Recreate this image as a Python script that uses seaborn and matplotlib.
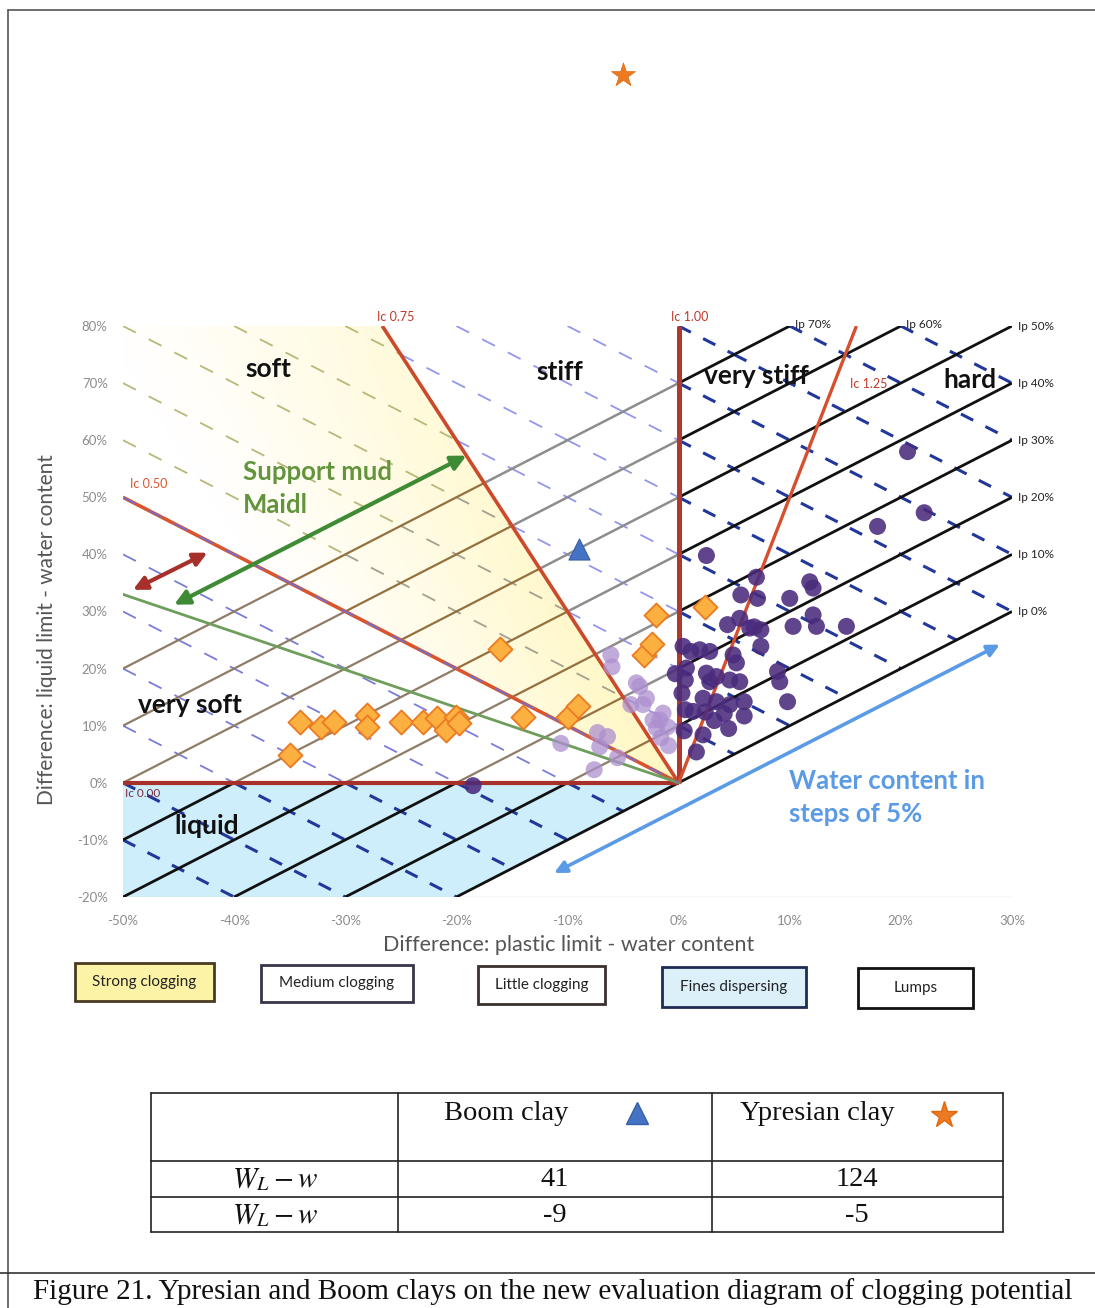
import numpy as np
import pandas as pd
import matplotlib
matplotlib.use("Agg")
import matplotlib.pyplot as plt
import seaborn as sns
from matplotlib.patches import Polygon, Rectangle, FancyArrowPatch
from matplotlib.lines import Line2D

sns.set_theme(style="white")
plt.rcParams['font.family'] = ['Lato', 'DejaVu Sans']
plt.rcParams['mathtext.fontset'] = 'stix'

# ---------------------------------------------------------------- data
x_ticks = [-50, -40, -30, -20, -10, 0, 10, 20, 30]
y_ticks = [-20, -10, 0, 10, 20, 30, 40, 50, 60, 70, 80]
ip_values = [0, 10, 20, 30, 40, 50, 60, 70]          # plasticity index lines
ic_values = [0.0, 0.5, 0.75, 1.0, 1.25]              # consistency index lines
w_steps = list(range(-70, 111, 10))                  # water-content lines (x + y = const)

support_mud_line = {"x": [-50, 0], "y": [33, 0]}

# samples: (plastic limit - w, liquid limit - w)
strong_x = [-35.0, -34.1, -32.2, -31.0, -28.0, -28.0, -25.0, -23.0, -21.7, -20.9,
            -20.0, -19.8, -16.1, -14.0, -10.0, -9.1, -3.1, -2.4, -2.0, 2.4]
strong_y = [4.9, 10.7, 9.8, 10.7, 11.9, 9.8, 10.7, 10.7, 11.3, 9.3,
            11.6, 10.5, 23.5, 11.6, 11.6, 13.5, 22.4, 24.3, 29.4, 30.8]

light_x = [-10.6, -7.6, -7.3, -7.1, -6.4, -6.1, -5.5, -4.3, -3.8, -3.5,
           -3.2, -2.9, -2.3, -2.0, -1.7, -1.4, -1.0, -1.6, -0.9, -6.0]
light_y = [6.9, 2.3, 8.8, 6.3, 8.1, 22.4, 4.4, 13.7, 17.5, 16.9,
           13.7, 14.8, 11.0, 9.6, 11.0, 12.2, 9.8, 7.9, 6.5, 20.3]

dark_x = [2.5, 7.0, 5.6, 7.1, 10.0, 11.8, 12.1, 17.9, 20.6, 22.1,
          10.3, 12.1, 12.4, 15.1, 4.4, 5.5, 6.4, 7.4, 7.4, 0.4,
          1.1, 1.9, 2.8, 0.7, 2.5, 3.4, 4.6, 5.5, 5.2, 4.9,
          8.9, 0.3, 2.2, 3.4, 4.6, 5.9, 9.8, 1.3, 0.5, 1.6,
          2.2, 3.2, 4.5, 5.9, 0.6, 2.4, 4.1, -0.3, 9.1, 6.8,
          -18.5, 0.6, 2.8]
dark_y = [39.8, 36.0, 32.9, 32.3, 32.3, 35.2, 34.1, 44.9, 58.0, 47.3,
          27.4, 29.4, 27.4, 27.4, 27.7, 28.8, 27.1, 26.8, 23.9, 23.9,
          23.0, 23.3, 23.0, 20.1, 19.2, 18.6, 18.0, 17.7, 21.0, 22.4,
          19.5, 15.7, 14.8, 14.2, 13.7, 14.2, 14.2, 12.5, 9.1, 5.4,
          8.4, 10.9, 9.5, 11.7, 12.8, 12.4, 12.1, 19.1, 17.7, 27.3,
          -0.5, 18.0, 17.7]

clay_names = ["Boom clay", "Ypresian clay"]
clay_wl_w = [41, 124]     # liquid limit - water content
clay_wp_w = [-9, -5]      # plastic limit - water content

legend_labels = ["Strong clogging", "Medium clogging", "Little clogging",
                 "Fines dispersing", "Lumps"]
legend_fills = ["#fdf3a6", "#ffffff", "#ffffff", "#dcf0fa", "#ffffff"]
legend_edges = ["#4a3a20", "#3a3548", "#3a3030", "#1f2a55", "#111111"]

# ---------------------------------------------------------------- figure
W, H = 1095, 1308
fig = plt.figure(figsize=(W / 100, H / 100), dpi=100)
fig.patch.set_facecolor("white")


def fx(px):
    return px / W


def fy(py):
    return 1 - py / H


ax = fig.add_axes([fx(123), fy(897), (1012 - 123) / W, (897 - 326) / H])
ax.set_xlim(-50, 30)
ax.set_ylim(-20, 80)
ax.set_facecolor("none")
for s in ax.spines.values():
    s.set_visible(False)
ax.grid(False)


def ic_x(ic, y):
    """x on a consistency-index line for a given y."""
    return y * (ic - 1) / ic


# ---- coloured zones
# fines dispersing (below Ic = 0)
ax.add_patch(Polygon([(-50, 0), (0, 0), (-20, -20), (-50, -20)], closed=True,
                     facecolor="#cdeefa", edgecolor="none", zorder=0))

# strong clogging band between Ic 0.50 and Ic 0.75, fading to the upper left
poly = Polygon([(0, 0), (ic_x(0.75, 80), 80), (-50, 80), (-50, 50)], closed=True,
               facecolor="none", edgecolor="none")
ax.add_patch(poly)
gx = np.linspace(-50, 0, 400)
gy = np.linspace(0, 80, 400)
GX, GY = np.meshgrid(gx, gy)
dist = ic_x(0.75, GY) - GX
alpha = np.clip(1 - dist / 26.0, 0, 1) ** 1.2 * (1 - 0.45 * GY / 80)
img = np.zeros(GX.shape + (4,))
img[..., 0] = 1.0
img[..., 1] = 0.972
img[..., 2] = 0.76
img[..., 3] = alpha
im = ax.imshow(img, extent=(-50, 0, 0, 80), origin="lower", aspect="auto",
               interpolation="bilinear", zorder=0)
im.set_clip_path(poly)


def zone(x, y):
    if y < -1e-9 or x > 1e-9:
        return "dark"
    ic = y / (y - x) if (y - x) != 0 else 1
    if ic >= 0.75:
        return "stiff"
    if ic >= 0.5:
        return "soft_ip" if (y - x) <= 70 else "soft"
    return "vsoft"


# ---- water-content lines (dashed, slope -1)
dash_style = {
    "dark": dict(color="#22379a", lw=2.2, dashes=(4.5, 4.5)),
    "stiff": dict(color="#9496ee", lw=1.3, dashes=(8, 8)),
    "soft_ip": dict(color="#a4a08e", lw=1.3, dashes=(8, 8)),
    "soft": dict(color="#b8b87a", lw=1.3, dashes=(8, 8)),
    "vsoft": dict(color="#7b7cd6", lw=1.3, dashes=(8, 8)),
}
for c in w_steps:
    x0 = max(-50, c - 80)
    x1 = min(30, c + 20, c / 2)
    if x1 <= x0:
        continue
    cuts = [x0, x1] + [b for b in (c, -c / 2, 0, (c - 70) / 2) if x0 < b < x1]
    cuts = sorted(set(cuts))
    for a, b in zip(cuts[:-1], cuts[1:]):
        xm = 0.5 * (a + b)
        st = dash_style[zone(xm, c - xm)]
        z = 4.6 if c == 0 else 2
        if c == 0:
            st = dict(color="#6f6fd0", lw=1.3, dashes=(8, 8))
        ax.plot([a, b], [c - a, c - b], color=st["color"], lw=st["lw"],
                dashes=st["dashes"], solid_capstyle="butt", zorder=z)

# ---- plasticity-index lines (slope +1)
ip_style = {
    "dark": dict(color="#111111", lw=2.0),
    "stiff": dict(color="#8d8d8d", lw=1.8),
    "soft_ip": dict(color="#94703f", lw=1.6),
    "soft": dict(color="#94703f", lw=1.6),
    "vsoft": dict(color="#8f7c66", lw=1.6),
}
for ip in ip_values:
    x0 = max(-50, -20 - ip)
    x1 = min(30, 80 - ip)
    cuts = [x0, x1] + [b for b in (-ip, -ip / 2, -ip / 4, 0) if x0 < b < x1]
    cuts = sorted(set(cuts))
    for a, b in zip(cuts[:-1], cuts[1:]):
        xm = 0.5 * (a + b)
        st = ip_style[zone(xm, xm + ip)]
        ax.plot([a, b], [a + ip, b + ip], color=st["color"], lw=st["lw"],
                solid_capstyle="butt", zorder=3)
    # label at the line end
    lbl = f"Ip {ip}%"
    if x1 < 30:
        ax.text(x1 + 0.5, 80.2, lbl, fontsize=8.5, color="#222222", ha="left",
                va="center", zorder=6, clip_on=False)
    else:
        ax.text(30.5, 30 + ip, lbl, fontsize=8.5, color="#222222", ha="left",
                va="center", zorder=6, clip_on=False)

# ---- consistency-index lines
ic_style = {0.0: ("#a8302a", 3.0), 0.5: ("#d9552e", 2.6), 0.75: ("#cc4a2c", 2.6),
            1.0: ("#b1392c", 3.6), 1.25: ("#d4502e", 2.4)}
for ic in ic_values:
    col, lw = ic_style[ic]
    if ic == 0.0:
        xs, ys = [-50, 0], [0, 0]
    elif ic == 0.5:
        xs, ys = [-50, 0], [50, 0]
    else:
        xs, ys = [0, ic_x(ic, 80)], [0, 80]
    ax.plot(xs, ys, color=col, lw=lw, solid_capstyle="butt", zorder=4)

ic_label_color = "#c0392b"
ax.text(ic_x(0.75, 80) + 1.2, 80.6, "Ic 0.75", fontsize=9, color=ic_label_color,
        ha="center", va="bottom", clip_on=False, zorder=6)
ax.text(1.0, 80.6, "Ic 1.00", fontsize=9, color=ic_label_color,
        ha="center", va="bottom", clip_on=False, zorder=6)
ax.text(15.4, 69.8, "Ic 1.25", fontsize=9, color=ic_label_color,
        ha="left", va="center", zorder=6)
ax.text(-49.4, 52.3, "Ic 0.50", fontsize=9, color="#d9552e",
        ha="left", va="center", zorder=6)
ax.text(-49.8, -1.9, "Ic 0.00", fontsize=8.5, color="#7a2a40",
        ha="left", va="center", zorder=6)

# support-mud boundary
sns.lineplot(x=support_mud_line["x"], y=support_mud_line["y"], ax=ax,
             color="#6f9e5c", lw=2.0, zorder=4)

# ---- arrows
def double_arrow(p0, p1, color, lw, scale):
    ax.add_patch(FancyArrowPatch(p0, p1, arrowstyle="<|-|>", mutation_scale=scale,
                                 color=color, lw=lw, zorder=7, clip_on=False,
                                 shrinkA=0, shrinkB=0))


double_arrow((-45.4, 31.2), (-19.1, 57.3), "#3f8a35", 3.0, 22)
double_arrow((-49.1, 33.8), (-42.4, 40.3), "#a8302a", 3.0, 20)
double_arrow((-11.2, -15.8), (28.9, 24.2), "#5b9be6", 2.6, 18)

# ---- sample markers
df_strong = pd.DataFrame({"x": strong_x, "y": strong_y})
df_light = pd.DataFrame({"x": light_x, "y": light_y})
df_dark = pd.DataFrame({"x": dark_x, "y": dark_y})

sns.scatterplot(data=df_light, x="x", y="y", ax=ax, s=150, color="#ad8fcf",
                alpha=0.75, edgecolor="none", zorder=8, legend=False)
sns.scatterplot(data=df_dark, x="x", y="y", ax=ax, s=150, color="#4a2b7d",
                alpha=0.88, edgecolor="none", zorder=9, legend=False)
sns.scatterplot(data=df_strong, x="x", y="y", ax=ax, s=150, marker="D",
                color="#fbb040", edgecolor="#ec7a22", linewidth=1.3,
                zorder=10, legend=False)

df_clay = pd.DataFrame({"x": clay_wp_w, "y": clay_wl_w, "name": clay_names})
sns.scatterplot(data=df_clay.iloc[[0]], x="x", y="y", ax=ax, s=230, marker="^",
                color="#4472c4", edgecolor="#3a5faa", linewidth=0.8,
                zorder=11, legend=False, clip_on=False)
sns.scatterplot(data=df_clay.iloc[[1]], x="x", y="y", ax=ax, s=330, marker="*",
                color="#ec7a22", edgecolor="#e06a10", linewidth=0.5,
                zorder=11, legend=False, clip_on=False)

# ---- zone names and notes
zone_font = dict(fontsize=19, fontweight="bold", color="#111111", zorder=12)
ax.text(-36.9, 72.5, "soft", ha="center", va="center", **zone_font)
ax.text(-10.7, 72.0, "stiff", ha="center", va="center", **zone_font)
ax.text(7.0, 71.3, "very stiff", ha="center", va="center", **zone_font)
ax.text(26.2, 70.6, "hard", ha="center", va="center", **zone_font)
ax.text(-44.0, 13.6, "very soft", ha="center", va="center", **zone_font)
ax.text(-42.5, -7.5, "liquid", ha="center", va="center", **zone_font)

ax.text(-39.2, 51.5, "Support mud\nMaidl", fontsize=18.5, fontweight="bold",
        color="#62943c", ha="left", va="center", linespacing=1.45, zorder=12)
ax.text(9.9, -2.6, "Water content in\nsteps of 5%", fontsize=18.5,
        fontweight="bold", color="#5b9be6", ha="left", va="center",
        linespacing=1.45, zorder=12)

# ---- axes decoration
ax.axhline(-20, color="#dddddd", lw=1.0, zorder=1)
ax.set_xticks(x_ticks)
ax.set_yticks(y_ticks)
ax.set_xticklabels([f"{v}%" for v in x_ticks])
ax.set_yticklabels([f"{v}%" for v in y_ticks])
ax.tick_params(axis="both", length=0, labelsize=9.5, labelcolor="#8c8c8c")
ax.tick_params(axis="x", pad=13)
ax.tick_params(axis="y", pad=11)
ax.set_xlabel("")
ax.set_ylabel("")
fig.text(fx(569), fy(945), "Difference: plastic limit - water content",
         fontsize=15.5, color="#555555", ha="center", va="center")
fig.text(fx(47), fy(630), "Difference: liquid limit - water content",
         fontsize=15, color="#555555", ha="center", va="center", rotation=90)

# ---- legend boxes
legend_boxes = [(75, 963, 214, 1001), (261, 965, 413, 1002), (478, 966, 605, 1004),
                (662, 967, 806, 1007), (858, 968, 973, 1008)]
for (x0, y0, x1, y1), lab, fc, ec in zip(legend_boxes, legend_labels,
                                         legend_fills, legend_edges):
    fig.patches.append(Rectangle((fx(x0), fy(y1)), fx(x1) - fx(x0), fy(y0) - fy(y1),
                                 transform=fig.transFigure, facecolor=fc,
                                 edgecolor=ec, lw=2.0))
    fig.text(fx((x0 + x1) / 2), fy((y0 + y1) / 2), lab, fontsize=11,
             color="#222222", ha="center", va="center")

# ---- summary table
serif = ["Liberation Serif", "DejaVu Serif"]
col_x = [151, 398, 712, 1003]
row_y = [1093, 1161, 1197, 1232]
for yy in row_y:
    fig.lines.append(Line2D([fx(col_x[0]), fx(col_x[-1])], [fy(yy), fy(yy)],
                            transform=fig.transFigure, color="#222222", lw=1.2))
for xx in col_x:
    fig.lines.append(Line2D([fx(xx), fx(xx)], [fy(row_y[0]), fy(row_y[-1])],
                            transform=fig.transFigure, color="#222222", lw=1.2))

fig.text(fx(506), fy(1113), clay_names[0], family=serif, fontsize=20.5,
         color="#111111", ha="center", va="center")
fig.text(fx(817), fy(1113), clay_names[1], family=serif, fontsize=20.5,
         color="#111111", ha="center", va="center")
fig.add_artist(Line2D([fx(637)], [fy(1113)], marker="^", markersize=16,
                      color="#4472c4", markeredgecolor="#3a5faa",
                      transform=fig.transFigure, linestyle="none"))
fig.add_artist(Line2D([fx(944)], [fy(1115)], marker="*", markersize=20,
                      color="#ec7a22", markeredgecolor="#e06a10",
                      transform=fig.transFigure, linestyle="none"))

row_label = r"$W_L - w$"
for r, yy in enumerate([1180, 1216]):
    fig.text(fx(275), fy(yy), row_label, fontsize=21, color="#111111",
             ha="center", va="center")
vals = [clay_wl_w, clay_wp_w]
for r, yy in enumerate([1180, 1216]):
    fig.text(fx(555), fy(yy), f"{vals[r][0]}", family=serif, fontsize=20.5,
             color="#111111", ha="center", va="center")
    fig.text(fx(857), fy(yy), f"{vals[r][1]}", family=serif, fontsize=20.5,
             color="#111111", ha="center", va="center")

# ---- frame and caption
frame = dict(transform=fig.transFigure, color="#555555", lw=1.2)
fig.lines.append(Line2D([fx(8), 1], [fy(10), fy(10)], **frame))
fig.lines.append(Line2D([fx(8), fx(8)], [fy(10), 0], **frame))
fig.lines.append(Line2D([0, 1], [fy(1273), fy(1273)], transform=fig.transFigure,
                        color="#333333", lw=1.2))
fig.text(fx(553), fy(1292),
         "Figure 21. Ypresian and Boom clays on the new evaluation diagram of clogging potential",
         family=serif, fontsize=21, color="#111111", ha="center", va="center")

fig.savefig("out.png", dpi=100, facecolor="white")
